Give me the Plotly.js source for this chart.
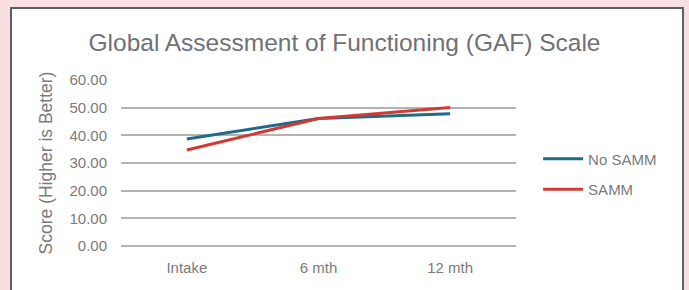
<!DOCTYPE html>
<html>
<head>
<meta charset="utf-8">
<script src="https://cdn.plot.ly/plotly-3.0.1.min.js"></script>
<style>
  html, body { margin: 0; padding: 0; background: #f9dfe0; width: 689px; height: 290px; overflow: hidden; }
  #frame { position: absolute; left: 10px; top: 7px; width: 674px; height: 300px; background: #ffffff; border: 2px solid #55636d; box-sizing: border-box; }
  #chart { position: absolute; left: 0; top: 0; width: 689px; height: 290px; }
</style>
</head>
<body>
<div id="frame"></div>
<div id="chart"></div>
<script>
const categories = ["Intake", "6 mth", "12 mth"];
const noSamm = [38.7, 46.1, 47.8];
const samm = [34.7, 46.1, 50.1];
const yTicks = [0, 10, 20, 30, 40, 50, 60];

const font = "'Liberation Sans', Arial, sans-serif";
const textColor = "#7a7a7a";

const traces = [
  { x: categories, y: noSamm, name: "No SAMM", type: "scatter", mode: "lines",
    line: { color: "#1f6b88", width: 3 }, legendgroup: "a" },
  { x: categories, y: samm, name: "SAMM", type: "scatter", mode: "lines",
    line: { color: "#d13a32", width: 3 }, legendgroup: "b" }
];

const layout = {
  width: 689, height: 290,
  paper_bgcolor: "rgba(0,0,0,0)", plot_bgcolor: "rgba(0,0,0,0)",
  margin: { l: 121, r: 173, t: 80, b: 44 },
  font: { family: font, color: textColor, size: 15 },
  title: { text: "Global Assessment of Functioning (GAF) Scale", x: 0.5, xref: "container", xanchor: "center",
           y: 0.855, yref: "container", yanchor: "middle",
           font: { family: font, size: 24.5, color: "#6e7175" } },
  xaxis: { type: "category", range: [-0.5, 2.5], showgrid: false, showline: false, zeroline: false, ticks: "",
           ticklabelstandoff: 11, tickfont: { size: 15, color: textColor } },
  yaxis: { range: [0, 60], tickvals: yTicks, tickformat: ".2f", showgrid: true, gridcolor: "#b3b3b3", gridwidth: 2,
           zeroline: true, zerolinecolor: "#b3b3b3", zerolinewidth: 2, showline: false, ticks: "",
           ticklabelstandoff: 13, tickfont: { size: 15, color: textColor },
           title: { text: "Score (Higher is Better)", standoff: 12, font: { size: 17.5, color: textColor } } },
  showlegend: true,
  legend: { x: 1.056, xanchor: "left", y: 0.434, yanchor: "middle", traceorder: "grouped", tracegroupgap: 8,
            itemwidth: 40, bgcolor: "rgba(0,0,0,0)", font: { size: 15, color: textColor } }
};

Plotly.newPlot("chart", traces, layout, { displayModeBar: false, staticPlot: true });
</script>
</body>
</html>
